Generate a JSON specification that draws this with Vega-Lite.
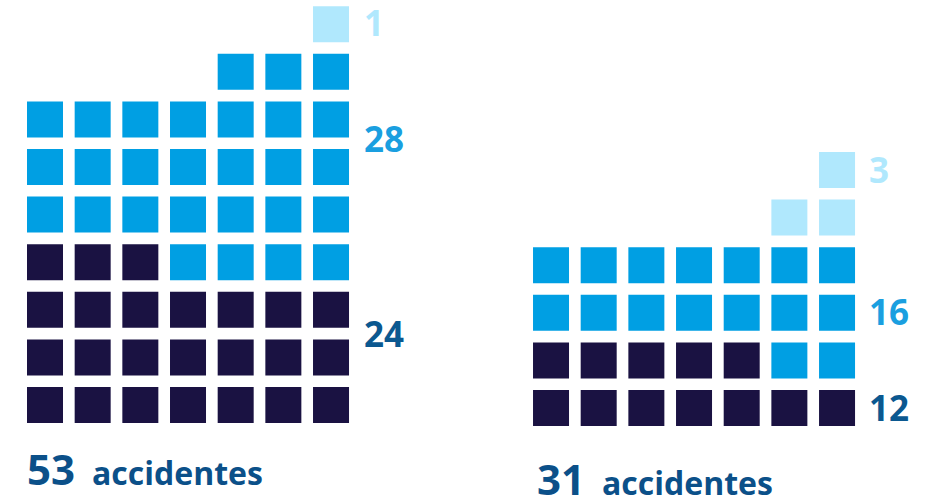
{
  "$schema": "https://vega.github.io/schema/vega-lite/v6.json",
  "width": 932,
  "height": 500,
  "autosize": "none",
  "padding": 0,
  "background": "white",
  "view": {"stroke": null},
  "datasets": {
    "cells": [
      {"x": 0, "y": 0, "cat": "A"}, {"x": 1, "y": 0, "cat": "A"}, {"x": 2, "y": 0, "cat": "A"}, {"x": 3, "y": 0, "cat": "A"}, {"x": 4, "y": 0, "cat": "A"}, {"x": 5, "y": 0, "cat": "A"}, {"x": 6, "y": 0, "cat": "A"},
      {"x": 0, "y": 1, "cat": "A"}, {"x": 1, "y": 1, "cat": "A"}, {"x": 2, "y": 1, "cat": "A"}, {"x": 3, "y": 1, "cat": "A"}, {"x": 4, "y": 1, "cat": "A"}, {"x": 5, "y": 1, "cat": "A"}, {"x": 6, "y": 1, "cat": "A"},
      {"x": 0, "y": 2, "cat": "A"}, {"x": 1, "y": 2, "cat": "A"}, {"x": 2, "y": 2, "cat": "A"}, {"x": 3, "y": 2, "cat": "A"}, {"x": 4, "y": 2, "cat": "A"}, {"x": 5, "y": 2, "cat": "A"}, {"x": 6, "y": 2, "cat": "A"},
      {"x": 0, "y": 3, "cat": "A"}, {"x": 1, "y": 3, "cat": "A"}, {"x": 2, "y": 3, "cat": "A"}, {"x": 3, "y": 3, "cat": "B"}, {"x": 4, "y": 3, "cat": "B"}, {"x": 5, "y": 3, "cat": "B"}, {"x": 6, "y": 3, "cat": "B"},
      {"x": 0, "y": 4, "cat": "B"}, {"x": 1, "y": 4, "cat": "B"}, {"x": 2, "y": 4, "cat": "B"}, {"x": 3, "y": 4, "cat": "B"}, {"x": 4, "y": 4, "cat": "B"}, {"x": 5, "y": 4, "cat": "B"}, {"x": 6, "y": 4, "cat": "B"},
      {"x": 0, "y": 5, "cat": "B"}, {"x": 1, "y": 5, "cat": "B"}, {"x": 2, "y": 5, "cat": "B"}, {"x": 3, "y": 5, "cat": "B"}, {"x": 4, "y": 5, "cat": "B"}, {"x": 5, "y": 5, "cat": "B"}, {"x": 6, "y": 5, "cat": "B"},
      {"x": 0, "y": 6, "cat": "B"}, {"x": 1, "y": 6, "cat": "B"}, {"x": 2, "y": 6, "cat": "B"}, {"x": 3, "y": 6, "cat": "B"}, {"x": 4, "y": 6, "cat": "B"}, {"x": 5, "y": 6, "cat": "B"}, {"x": 6, "y": 6, "cat": "B"},
      {"x": 4, "y": 7, "cat": "B"}, {"x": 5, "y": 7, "cat": "B"}, {"x": 6, "y": 7, "cat": "B"},
      {"x": 6, "y": 8, "cat": "C"},
      {"x": 10.615, "y": -0.063, "cat": "A"}, {"x": 11.615, "y": -0.063, "cat": "A"}, {"x": 12.615, "y": -0.063, "cat": "A"}, {"x": 13.615, "y": -0.063, "cat": "A"}, {"x": 14.615, "y": -0.063, "cat": "A"}, {"x": 15.615, "y": -0.063, "cat": "A"}, {"x": 16.615, "y": -0.063, "cat": "A"},
      {"x": 10.615, "y": 0.937, "cat": "A"}, {"x": 11.615, "y": 0.937, "cat": "A"}, {"x": 12.615, "y": 0.937, "cat": "A"}, {"x": 13.615, "y": 0.937, "cat": "A"}, {"x": 14.615, "y": 0.937, "cat": "A"}, {"x": 15.615, "y": 0.937, "cat": "B"}, {"x": 16.615, "y": 0.937, "cat": "B"},
      {"x": 10.615, "y": 1.937, "cat": "B"}, {"x": 11.615, "y": 1.937, "cat": "B"}, {"x": 12.615, "y": 1.937, "cat": "B"}, {"x": 13.615, "y": 1.937, "cat": "B"}, {"x": 14.615, "y": 1.937, "cat": "B"}, {"x": 15.615, "y": 1.937, "cat": "B"}, {"x": 16.615, "y": 1.937, "cat": "B"},
      {"x": 10.615, "y": 2.937, "cat": "B"}, {"x": 11.615, "y": 2.937, "cat": "B"}, {"x": 12.615, "y": 2.937, "cat": "B"}, {"x": 13.615, "y": 2.937, "cat": "B"}, {"x": 14.615, "y": 2.937, "cat": "B"}, {"x": 15.615, "y": 2.937, "cat": "B"}, {"x": 16.615, "y": 2.937, "cat": "B"},
      {"x": 15.615, "y": 3.937, "cat": "C"}, {"x": 16.615, "y": 3.937, "cat": "C"},
      {"x": 16.615, "y": 4.937, "cat": "C"}
    ],
    "labels": [
      {"x": 6.69, "y": 7.752, "cat": "C", "label": "1"},
      {"x": 6.69, "y": 5.315, "cat": "B", "label": "28"},
      {"x": 6.69, "y": 1.218, "cat": "A", "label": "24"},
      {"x": 17.285, "y": 4.664, "cat": "C", "label": "3"},
      {"x": 17.285, "y": 1.681, "cat": "B", "label": "16"},
      {"x": 17.285, "y": -0.336, "cat": "A", "label": "12"}
    ],
    "totals": [
      {"x": -0.378, "y": -1.681, "label": "53"},
      {"x": 10.321, "y": -1.891, "label": "31"}
    ],
    "words": [
      {"x": 0.986, "y": -1.681, "label": "accidentes"},
      {"x": 11.685, "y": -1.891, "label": "accidentes"}
    ]
  },
  "encoding": {
    "x": {"field": "x", "type": "quantitative", "scale": {"domain": [-0.944, 18.607], "nice": false, "zero": false}, "axis": null},
    "y": {"field": "y", "type": "quantitative", "scale": {"domain": [-1.996, 8.508], "nice": false, "zero": false}, "axis": null}
  },
  "layer": [
    {
      "data": {"name": "cells"},
      "mark": {"type": "square", "size": 1296, "opacity": 1, "filled": true, "strokeWidth": 0},
      "encoding": {
        "color": {"field": "cat", "type": "nominal", "scale": {"domain": ["A", "B", "C"], "range": ["#1a1242", "#009fe3", "#b0e8fd"]}, "legend": null}
      }
    },
    {
      "data": {"name": "labels"},
      "mark": {"type": "text", "align": "left", "baseline": "alphabetic", "font": "Open Sans", "fontWeight": "bold", "fontSize": 35},
      "encoding": {
        "text": {"field": "label"},
        "color": {"field": "cat", "type": "nominal", "scale": {"domain": ["A", "B", "C"], "range": ["#0b5890", "#1a9fe0", "#b0e8fd"]}, "legend": null}
      }
    },
    {
      "data": {"name": "totals"},
      "mark": {"type": "text", "align": "left", "baseline": "alphabetic", "font": "Open Sans", "fontWeight": "bold", "fontSize": 42, "color": "#0b5089"},
      "encoding": {"text": {"field": "label"}}
    },
    {
      "data": {"name": "words"},
      "mark": {"type": "text", "align": "left", "baseline": "alphabetic", "font": "Open Sans", "fontWeight": "bold", "fontSize": 32, "color": "#0b5089"},
      "encoding": {"text": {"field": "label"}}
    }
  ],
  "resolve": {"scale": {"color": "independent"}}
}
